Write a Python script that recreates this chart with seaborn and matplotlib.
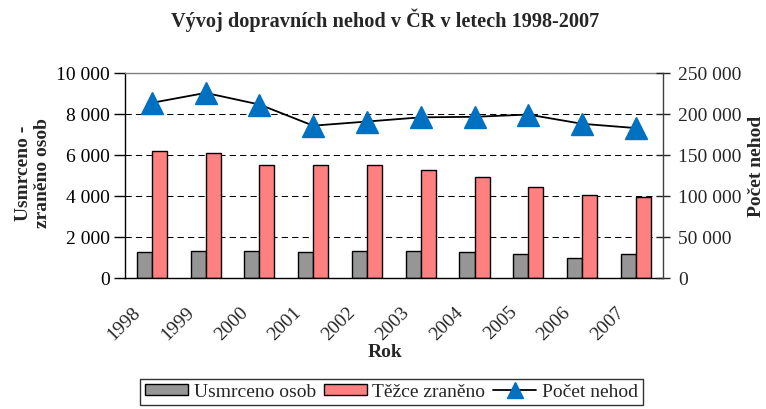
import numpy as np
import pandas as pd
import matplotlib
matplotlib.use("Agg")
import matplotlib.pyplot as plt
import matplotlib.transforms as mtransforms
from matplotlib.patches import Patch
from matplotlib.lines import Line2D
from matplotlib.ticker import FuncFormatter, MultipleLocator
import seaborn as sns

# ---- data ----
years = ["1998", "1999", "2000", "2001", "2002", "2003", "2004", "2005", "2006", "2007"]
usmrceno = [1254, 1319, 1319, 1254, 1319, 1319, 1254, 1156, 977, 1156]
tezce_zraneno = [6170, 6075, 5505, 5505, 5505, 5260, 4935, 4446, 4023, 3958]
pocet_nehod = [213583, 225690, 211516, 185664, 190718, 195851, 196484, 199262, 187965, 182736]
series_names = ["Usmrceno osob", "Těžce zraněno", "Počet nehod"]

sns.set_style("white")
plt.rcParams["font.family"] = ["Liberation Serif", "DejaVu Serif"]
plt.rcParams["font.size"] = 14

df = pd.DataFrame({
    "Rok": years * 2,
    "value": usmrceno + tezce_zraneno,
    "series": [series_names[0]] * len(years) + [series_names[1]] * len(years),
})

gray = "#969696"
red = "#FF8080"
blue = "#0070C0"

fig = plt.figure(figsize=(7.66, 4.10), dpi=100)
ax = fig.add_axes([125 / 766, 1 - 278.7 / 410, (662.7 - 125) / 766, (278.7 - 74) / 410])

sns.barplot(data=df, x="Rok", y="value", hue="series", palette=[gray, red],
            width=0.56, edgecolor="black", linewidth=1.0, ax=ax, legend=False,
            saturation=1)

ax.set_xlim(-0.5, len(years) - 0.5)
ax.set_ylim(0, 10000)
ax.yaxis.set_major_locator(MultipleLocator(2000))
fmt = FuncFormatter(lambda v, p: f"{int(v):,}".replace(",", " "))
ax.yaxis.set_major_formatter(fmt)
ax.set_xlabel("")
ax.set_ylabel("")

ax.set_axisbelow(True)
ax.yaxis.grid(True, color="black", linewidth=0.75, linestyle=(0, (6, 4)))
for gl in ax.get_ygridlines()[-1:]:
    gl.set_visible(False)
for gl in ax.get_ygridlines()[:1]:
    gl.set_visible(False)

ax.spines["top"].set_color("#808080")
ax.spines["left"].set_color("black")
ax.spines["bottom"].set_color("black")
ax.spines["right"].set_visible(False)
for s in ax.spines.values():
    s.set_linewidth(1.0)

ax.tick_params(axis="y", direction="out", length=8, width=1, pad=3, labelsize=14, colors="black")
ax.set_xticks(range(len(years)))
ax.set_xticklabels(years, rotation=45, ha="right", va="top")
ax.tick_params(axis="x", which="major", length=0, pad=18, labelsize=14)
ax.set_xticks(np.arange(-0.5, len(years), 1.0), minor=True)
ax.tick_params(axis="x", which="minor", direction="inout", length=8, width=1)
offset = mtransforms.ScaledTranslation(-8 / 100, 0, fig.dpi_scale_trans)
for lab in ax.get_xticklabels():
    lab.set_transform(lab.get_transform() + offset)

ax2 = ax.twinx()
sns.lineplot(x=np.arange(len(years)), y=pocet_nehod, ax=ax2, color="black",
             linewidth=1.3, marker="^", markersize=15.5, markerfacecolor=blue,
             markeredgecolor=blue, markeredgewidth=1)
ax2.set_ylim(0, 250000)
ax2.yaxis.set_major_locator(MultipleLocator(50000))
ax2.yaxis.set_major_formatter(fmt)
ax2.set_ylabel("")
ax2.tick_params(axis="y", direction="inout", length=10, width=1, pad=6, labelsize=14)
for k in ["top", "left", "bottom"]:
    ax2.spines[k].set_visible(False)
ax2.spines["right"].set_color("#404040")
ax2.spines["right"].set_linewidth(1.0)

fig.text(0.503, 0.951, "Vývoj dopravních nehod v ČR v letech 1998-2007",
         ha="center", va="center", fontsize=14.6, fontweight="bold")
fig.text(0.043, 0.578, "Usmrceno -\nzraněno osob", rotation=90, ha="center",
         va="center", fontsize=14, fontweight="bold", multialignment="center",
         linespacing=1.15)
fig.text(0.988, 0.595, "Počet nehod", rotation=90, ha="center", va="center",
         fontsize=14, fontweight="bold")
fig.text(0.503, 0.141, "Rok", ha="center", va="center", fontsize=14, fontweight="bold")

handles = [
    Patch(facecolor=gray, edgecolor="black", linewidth=1.0),
    Patch(facecolor=red, edgecolor="black", linewidth=1.0),
    Line2D([0], [0], color="black", linewidth=1.3, marker="^", markersize=11,
           markerfacecolor=blue, markeredgecolor=blue),
]
leg = fig.legend(handles, series_names, loc="center", bbox_to_anchor=(391.5 / 766, 1 - 393 / 410),
                 ncol=3, frameon=True, fancybox=False, edgecolor="black", fontsize=14,
                 handlelength=2.2, handleheight=0.5, handletextpad=0.3, columnspacing=0.4,
                 borderpad=0.25, borderaxespad=0)
leg.get_frame().set_linewidth(1.0)

fig.savefig("out.png", dpi=100)
